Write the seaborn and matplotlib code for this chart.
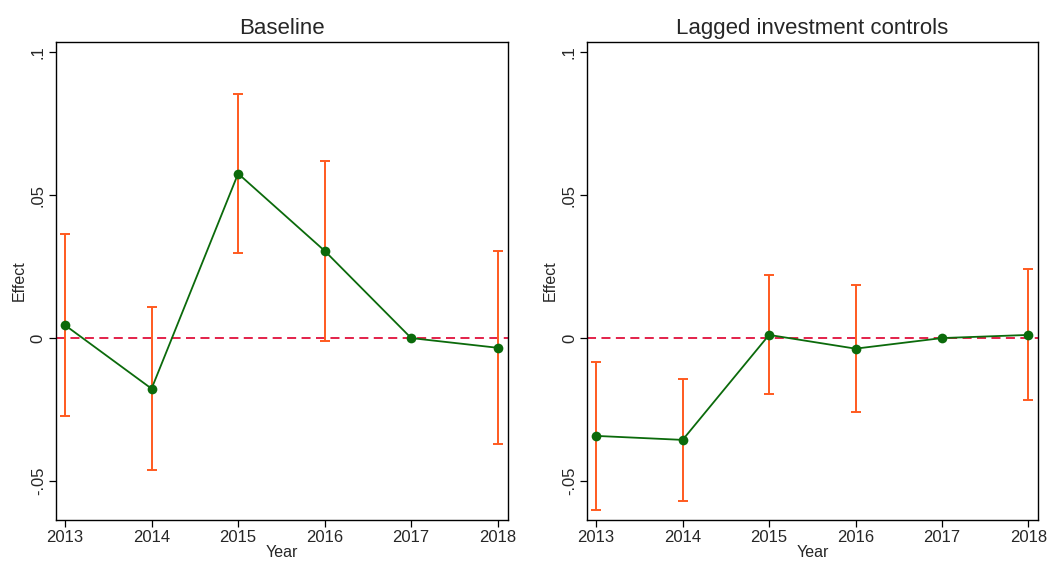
import matplotlib
matplotlib.use("Agg")
import matplotlib.pyplot as plt
import seaborn as sns
import pandas as pd

# Event-study estimates with 95% confidence bounds
years = [2013, 2014, 2015, 2016, 2017, 2018]

baseline_coef = [0.0045, -0.0177, 0.0575, 0.0305, 0.0, -0.0034]
baseline_lo = [-0.0274, -0.0462, 0.0298, -0.0009, 0.0, -0.0370]
baseline_hi = [0.0364, 0.0107, 0.0853, 0.0620, 0.0, 0.0303]

lagged_coef = [-0.0342, -0.0356, 0.0011, -0.0037, 0.0, 0.0011]
lagged_lo = [-0.0601, -0.0568, -0.0197, -0.0258, 0.0, -0.0216]
lagged_hi = [-0.0082, -0.0142, 0.0222, 0.0184, 0.0, 0.0241]

titles = ["Baseline", "Lagged investment controls"]
ytick_vals = [-0.05, 0, 0.05, 0.1]
ytick_labels = ["-.05", "0", ".05", ".1"]

sns.set_theme(style="white")
plt.rcParams["font.family"] = ["Liberation Sans", "DejaVu Sans"]

LINE = "#0b6a0b"
CI = "#ff5a1f"
REF = "#e0103c"

fig = plt.figure(figsize=(10.48, 5.61), dpi=100)
ax_l = fig.add_axes([0.053, 0.0731, 0.4314, 0.852])
ax_r = fig.add_axes([0.5598, 0.0731, 0.431, 0.852])

panels = [
    (ax_l, baseline_coef, baseline_lo, baseline_hi),
    (ax_r, lagged_coef, lagged_lo, lagged_hi),
]

for (ax, coef, lo, hi), title in zip(panels, titles):
    df = pd.DataFrame({"Year": years, "Effect": coef, "lo": lo, "hi": hi})
    ax.axhline(0, color=REF, lw=1.3, ls=(0, (5, 3)), zorder=1)
    ci = df[df["hi"] != df["lo"]]
    ax.errorbar(ci["Year"], ci["Effect"],
                yerr=[ci["Effect"] - ci["lo"], ci["hi"] - ci["Effect"]],
                fmt="none", ecolor=CI, elinewidth=1.4, capsize=3.6,
                capthick=1.4, zorder=2)
    sns.lineplot(data=df, x="Year", y="Effect", ax=ax, color=LINE,
                 lw=1.3, marker="o", markersize=7, markeredgewidth=0,
                 markerfacecolor=LINE, zorder=3)
    ax.set_xlim(2012.89, 2018.115)
    ax.set_ylim(-0.0636, 0.1035)
    ax.set_xticks(years)
    ax.set_xticklabels([str(y) for y in years], fontsize=12)
    ax.set_yticks(ytick_vals)
    ax.set_yticklabels(ytick_labels, fontsize=12, rotation=90, va="center")
    ax.tick_params(axis="both", direction="out", length=5, width=0.9,
                   color="black", pad=2, left=True, bottom=True)
    ax.set_xlabel("Year", fontsize=11.5, labelpad=0)
    ax.set_ylabel("Effect", fontsize=11.5, labelpad=3)
    ax.set_title(title, fontsize=16, pad=6)
    for side in ["top", "right", "left", "bottom"]:
        ax.spines[side].set_visible(True)
        ax.spines[side].set_color("black")
        ax.spines[side].set_linewidth(1.0)
    ax.grid(False)
    ax.set_facecolor("white")

fig.savefig("out.png", dpi=100, facecolor="white")
